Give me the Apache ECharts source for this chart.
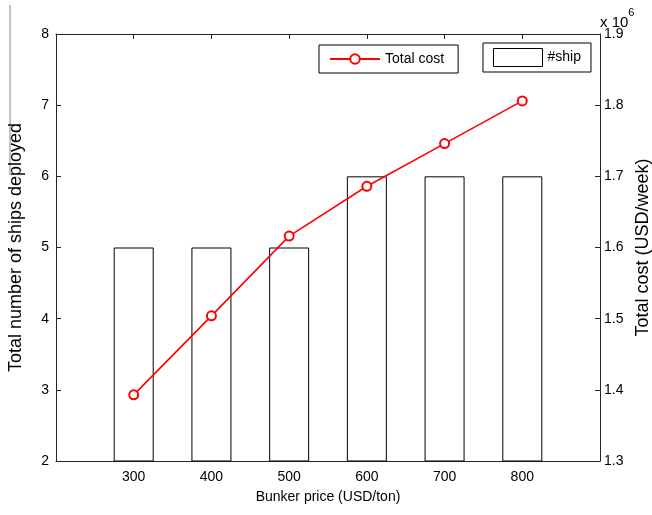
<!DOCTYPE html>
<html>
<head>
<meta charset="utf-8">
<script src="https://cdn.jsdelivr.net/npm/echarts@6/dist/echarts.min.js"></script>
<style>
  html, body { margin: 0; padding: 0; background: #fff; }
  #chart { width: 652px; height: 515px; }
</style>
</head>
<body>
<div id="chart"></div>
<script>
// bunker price categories (USD/ton)
const prices = [300, 400, 500, 600, 700, 800];
// number of ships deployed (left axis)
const ships = [5, 5, 5, 6, 6, 6];
// total cost USD/week (right axis)
const totalCost = [1.393e6, 1.504e6, 1.616e6, 1.686e6, 1.746e6, 1.806e6];

const font = 'Liberation Sans';
const axisColor = '#262626';

const myChart = echarts.init(document.getElementById('chart'));

const option = {
  animation: false,
  textStyle: { fontFamily: font },
  grid: { left: 56, right: 52, top: 34, bottom: 54, containLabel: false, outerBoundsMode: 'none' },
  legend: [
    {
      data: ['Total cost'],
      left: 319,
      top: 45,
      orient: 'horizontal',
      padding: [7, 14, 7, 10],
      itemWidth: 50,
      itemHeight: 12,
      borderColor: '#000',
      borderWidth: 1,
      textStyle: { fontFamily: font, fontSize: 14, color: '#000' }
    },
    {
      data: [{ name: '#ship', icon: 'rect' }],
      left: 483,
      top: 43,
      padding: [5, 10, 5, 10],
      itemWidth: 49,
      itemHeight: 18,
      itemStyle: { color: '#fff', borderColor: '#000', borderWidth: 1 },
      borderColor: '#000',
      borderWidth: 1,
      textStyle: { fontFamily: font, fontSize: 14, color: '#000' }
    }
  ],
  xAxis: [
    {
      type: 'value',
      min: 200,
      max: 900,
      interval: 100,
      name: 'Bunker price (USD/ton)',
      nameLocation: 'middle',
      nameGap: 29,
      nameTextStyle: { fontFamily: font, fontSize: 14, color: '#000' },
      axisLine: { lineStyle: { color: axisColor, width: 1 } },
      axisTick: { inside: true, length: 5, lineStyle: { color: axisColor } },
      axisLabel: {
        fontFamily: font, fontSize: 14, color: '#000', margin: 9,
        formatter: v => (v === 200 || v === 900 ? '' : String(v))
      },
      splitLine: { show: false }
    },
    {
      type: 'value',
      position: 'top',
      min: 200,
      max: 900,
      interval: 100,
      axisLine: { lineStyle: { color: axisColor, width: 1 } },
      axisTick: { inside: true, length: 5, lineStyle: { color: axisColor } },
      axisLabel: { show: false },
      splitLine: { show: false }
    }
  ],
  yAxis: [
    {
      type: 'value',
      min: 2,
      max: 8,
      interval: 1,
      name: 'Total number of ships deployed',
      nameLocation: 'middle',
      nameGap: 31,
      nameTextStyle: { fontFamily: font, fontSize: 18, color: '#000' },
      axisLine: { show: true, lineStyle: { color: axisColor, width: 1 } },
      axisTick: { show: true, inside: true, length: 5, lineStyle: { color: axisColor } },
      axisLabel: { fontFamily: font, fontSize: 14, color: '#000', margin: 7 },
      splitLine: { show: false }
    },
    {
      type: 'value',
      position: 'right',
      min: 1.3e6,
      max: 1.9e6,
      interval: 0.1e6,
      name: 'Total cost (USD/week)',
      nameLocation: 'middle',
      nameGap: 32,
      nameTextStyle: { fontFamily: font, fontSize: 18, color: '#000' },
      axisLine: { show: true, lineStyle: { color: axisColor, width: 1 } },
      axisTick: { show: true, inside: true, length: 5, lineStyle: { color: axisColor } },
      axisLabel: {
        fontFamily: font, fontSize: 14, color: '#000', margin: 4,
        formatter: v => (v / 1e6).toFixed(1)
      },
      splitLine: { show: false }
    }
  ],
  graphic: [
    {
      type: 'line',
      shape: { x1: 10, y1: 5, x2: 10, y2: 175 },
      style: { stroke: '#888', lineWidth: 1 }
    },
    {
      type: 'text',
      left: 600,
      top: 7,
      style: {
        text: '{a|x 10}{b|6}',
        rich: {
          a: { fontFamily: font, fontSize: 15, fill: '#000', padding: [8, 0, 0, 0] },
          b: { fontFamily: font, fontSize: 11, fill: '#000', verticalAlign: 'top' }
        }
      }
    }
  ],
  series: [
    {
      name: '#ship',
      type: 'bar',
      xAxisIndex: 0,
      yAxisIndex: 0,
      barWidth: 40,
      data: prices.map((p, i) => [p, ships[i]]),
      itemStyle: { color: '#fff', borderColor: '#000', borderWidth: 1 },
      z: 2
    },
    {
      name: 'Total cost',
      type: 'line',
      xAxisIndex: 0,
      yAxisIndex: 1,
      data: prices.map((p, i) => [p, totalCost[i]]),
      symbol: 'emptyCircle',
      symbolSize: 9,
      lineStyle: { color: '#ff0000', width: 1.6 },
      itemStyle: { color: '#ff0000', borderColor: '#ff0000', borderWidth: 1.6 },
      z: 5
    }
  ]
};

myChart.setOption(option);
</script>
</body>
</html>
